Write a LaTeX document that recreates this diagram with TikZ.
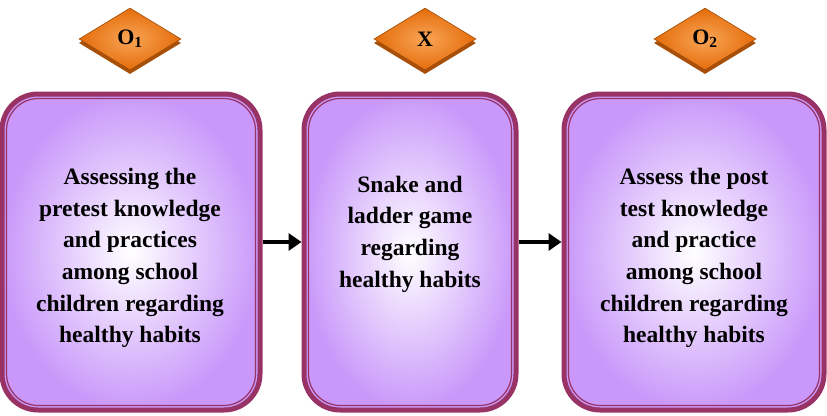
\documentclass[tikz,border=0pt]{standalone}
\usepackage{fontspec}
\setmainfont{Liberation Serif}
\usetikzlibrary{shapes.geometric,arrows.meta}
\definecolor{rim}{HTML}{993366}
\definecolor{lav}{HTML}{C998FA}
\definecolor{orng}{HTML}{E46C0A}
\definecolor{orlt}{HTML}{F9A556}
\definecolor{ordk}{HTML}{A8500A}
\tikzset{
  box/.style={rounded corners=36pt, draw=rim, line width=5pt, inner color=white, outer color=lav, shading=radial},
  inbox/.style={rounded corners=32pt, draw=rim, line width=1.2pt},
  txt/.style={font=\bfseries\fontsize{23.5}{31.6}\selectfont, align=center, text=black},
  dia/.style={diamond, aspect=1.65, minimum width=102pt, minimum height=62pt, inner sep=0pt},
  diatop/.style={dia, inner color=orlt, outer color=orng, shading=radial, draw=orng!70!black, line width=0.6pt, font=\bfseries\fontsize{22}{24}\selectfont},
  diabot/.style={dia, fill=ordk},
  arr/.style={line width=4.5pt, -{Triangle[length=13pt,width=17pt]}}
}
\begin{document}
\begin{tikzpicture}[x=1pt,y=-1pt]
\useasboundingbox (0,0) rectangle (827,415);
% boxes
\node[box, minimum width=258pt, minimum height=316pt] (b1) at (131,252) {};
\node[inbox, minimum width=249pt, minimum height=307pt] (i1) at (131,252) {};
\node[box, minimum width=212pt, minimum height=316pt] (b2) at (410,252) {};
\node[inbox, minimum width=203pt, minimum height=307pt] (i2) at (410,252) {};
\node[box, minimum width=260pt, minimum height=316pt] (b3) at (694,252) {};
\node[inbox, minimum width=251pt, minimum height=307pt] (i3) at (694,252) {};
% texts
\node[txt] (t1) at (130,258) {Assessing the\\pretest knowledge\\and practices\\among school\\children regarding\\healthy habits};
\node[txt] (t2) at (410,234) {Snake and\\ladder game\\regarding\\healthy habits};
\node[txt] (t3) at (694,258) {Assess the post\\test knowledge\\and practice\\among school\\children regarding\\healthy habits};
% arrows
\draw[arr] ([yshift=10pt]b1.east) -- ([yshift=10pt]b2.west);
\draw[arr] ([yshift=10pt]b2.east) -- ([yshift=10pt]b3.west);
% diamonds
\node[diabot] (d1s) at (130,43) {};
\node[diatop] (d1) at (130,39) {O\textsubscript{1}};
\node[diabot] (d2s) at (425,43) {};
\node[diatop] (d2) at (425,39) {X};
\node[diabot] (d3s) at (705,43) {};
\node[diatop] (d3) at (705,39) {O\textsubscript{2}};
\end{tikzpicture}
\end{document}
